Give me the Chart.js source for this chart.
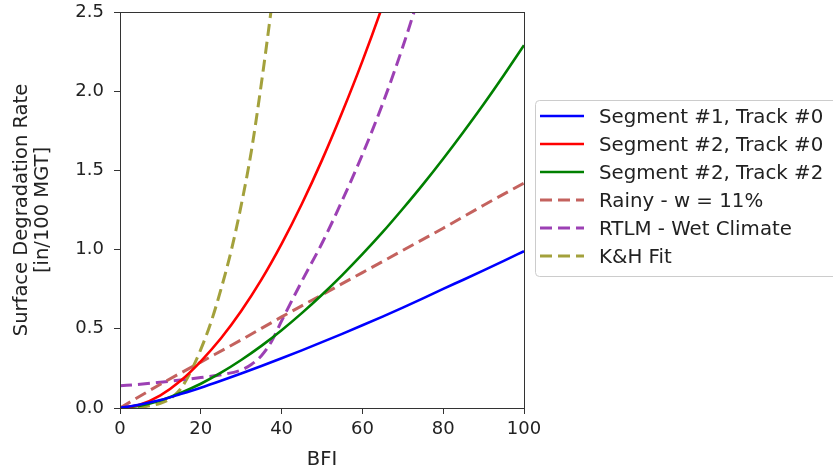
<!DOCTYPE html>
<html>
<head>
<meta charset="utf-8">
<script src="https://cdn.jsdelivr.net/npm/chart.js@4/dist/chart.umd.min.js"></script>
<style>
  body { margin: 0; background: #fff; }
  canvas { display: block; }
</style>
</head>
<body>
<canvas id="chart" width="833" height="476"></canvas>
<script>
// values
var bfiStep5 = [0, 5, 10, 15, 20, 25, 30, 35, 40, 45, 50, 55, 60, 65, 70, 75, 80, 85, 90, 95, 100];
var seg1Track0 = [0, 0.022, 0.05, 0.088, 0.128, 0.172, 0.218, 0.265, 0.314, 0.364, 0.416, 0.468, 0.522, 0.577, 0.634, 0.692, 0.752, 0.81, 0.869, 0.929, 0.99];
var seg2Track2 = [0, 0.015, 0.048, 0.095, 0.153, 0.223, 0.303, 0.392, 0.491, 0.599, 0.715, 0.839, 0.971, 1.11, 1.258, 1.412, 1.574, 1.743, 1.918, 2.101, 2.29];

var bfiRed = [0, 5, 10, 15, 20, 25, 30, 35, 40, 45, 50, 55, 60, 65, 70];
var seg2Track0 = [0, 0.022, 0.08, 0.172, 0.295, 0.44, 0.612, 0.81, 1.036, 1.288, 1.565, 1.867, 2.19, 2.54, 2.92];

var bfiRainy = [0, 10, 20, 30, 40, 50, 60, 70, 80, 90, 100];
var rainy = [0, 0.15, 0.29, 0.43, 0.575, 0.715, 0.855, 0.995, 1.135, 1.28, 1.42];

var bfiRtlm = [0, 5, 10, 15, 20, 25, 30, 32.5, 35, 37.5, 40, 45, 50, 55, 60, 65, 70, 75];
var rtlm = [0.14, 0.15, 0.163, 0.177, 0.192, 0.21, 0.24, 0.275, 0.33, 0.42, 0.55, 0.80, 1.04, 1.31, 1.60, 1.92, 2.28, 2.68];

var bfiKh = [0, 5, 10, 12.5, 15, 17.5, 20, 22.5, 25, 27.5, 30, 32.5, 35, 37.5, 40];
var khFit = [0, 0.005, 0.03, 0.06, 0.12, 0.23, 0.37, 0.54, 0.75, 0.99, 1.28, 1.62, 2.05, 2.53, 3.05];

var labels = ['Segment #1, Track #0', 'Segment #2, Track #0', 'Segment #2, Track #2',
              'Rainy - w = 11%', 'RTLM - Wet Climate', 'K&H Fit'];
var xTicks = [0, 20, 40, 60, 80, 100];
var yTicks = [0, 0.5, 1.0, 1.5, 2.0, 2.5];

function pts(xs, ys) {
    return xs.map(function(x, i) { return {x: x, y: ys[i]}; });
}

function series(label, xs, ys, color, dashed) {
    return {
        label: label,
        data: pts(xs, ys),
        borderColor: color,
        backgroundColor: color,
        borderWidth: dashed ? 3 : 2.6,
        borderDash: dashed ? [12, 6] : [],
        pointRadius: 0,
        cubicInterpolationMode: 'monotone',
        fill: false
    };
}

Chart.defaults.font.family = "'DejaVu Sans', sans-serif";
Chart.defaults.font.size = 18;
Chart.defaults.color = '#222';

// frame on all four sides + matplotlib style legend box
var framePlugin = {
    id: 'frame',
    afterDraw: function(chart) {
        var ctx = chart.ctx, a = chart.chartArea;
        ctx.save();
        ctx.strokeStyle = '#333';
        ctx.lineWidth = 1;
        ctx.strokeRect(Math.round(a.left) + 0.5, Math.round(a.top) + 0.5,
                       Math.round(a.right - a.left), Math.round(a.bottom - a.top));

        // legend
        var bx = 535.5, by = 100.5, bw = 300, bh = 176, r = 4;
        ctx.beginPath();
        ctx.moveTo(bx + r, by);
        ctx.lineTo(bx + bw, by);
        ctx.moveTo(bx + bw, by + bh);
        ctx.lineTo(bx + r, by + bh);
        ctx.arcTo(bx, by + bh, bx, by + bh - r, r);
        ctx.lineTo(bx, by + r);
        ctx.arcTo(bx, by, bx + r, by, r);
        ctx.strokeStyle = '#cccccc';
        ctx.lineWidth = 1;
        ctx.stroke();

        ctx.font = "19.8px 'DejaVu Sans'";
        ctx.textBaseline = 'middle';
        ctx.fillStyle = '#222';
        chart.data.datasets.forEach(function(ds, i) {
            var y = 116 + i * 28;
            ctx.beginPath();
            ctx.setLineDash(ds.borderDash);
            ctx.strokeStyle = ds.borderColor;
            ctx.lineWidth = ds.borderWidth;
            ctx.moveTo(540, y);
            ctx.lineTo(584, y);
            ctx.stroke();
            ctx.setLineDash([]);
            ctx.fillText(ds.label, 599, y + 2);
        });
        ctx.restore();
    }
};

var ctx = document.getElementById('chart').getContext('2d');
var chart = new Chart(ctx, {
    type: 'line',
    data: {
        datasets: [
            series(labels[0], bfiStep5, seg1Track0, '#0000ff', false),
            series(labels[1], bfiRed, seg2Track0, '#ff0000', false),
            series(labels[2], bfiStep5, seg2Track2, '#008000', false),
            series(labels[3], bfiRainy, rainy, '#c4625e', true),
            series(labels[4], bfiRtlm, rtlm, '#9c40b4', true),
            series(labels[5], bfiKh, khFit, '#a3a13c', true)
        ]
    },
    options: {
        responsive: false,
        animation: false,
        devicePixelRatio: 1,
        layout: { padding: { left: 0, top: 0, right: 309, bottom: 0 } },
        plugins: { legend: { display: false }, tooltip: { enabled: false } },
        scales: {
            x: {
                type: 'linear',
                min: 0, max: 100,
                afterBuildTicks: function(s) { s.ticks = xTicks.map(function(v) { return {value: v}; }); },
                afterFit: function(s) { s.height = 68; },
                grid: { drawOnChartArea: false, drawTicks: true, tickLength: 6, color: '#333' },
                border: { color: '#333' },
                ticks: { padding: 5, maxRotation: 0 },
                title: { display: true, text: 'BFI', font: { size: 19.5 }, padding: { top: 0, bottom: 4 } }
            },
            y: {
                min: 0, max: 2.5,
                afterBuildTicks: function(s) { s.ticks = yTicks.map(function(v) { return {value: v}; }); },
                afterFit: function(s) { s.width = 120; s.paddingTop = 12; s.paddingBottom = 0; },
                grid: { drawOnChartArea: false, drawTicks: true, tickLength: 6, color: '#333' },
                border: { color: '#333' },
                ticks: { padding: 10, callback: function(v) { return Number(v).toFixed(1); } },
                title: { display: true, text: ['Surface Degradation Rate', '[in/100 MGT]'], font: { size: 19.5, lineHeight: 1.1 }, padding: { top: 11, bottom: 0 } }
            }
        }
    },
    plugins: [framePlugin]
});
</script>
</body>
</html>
